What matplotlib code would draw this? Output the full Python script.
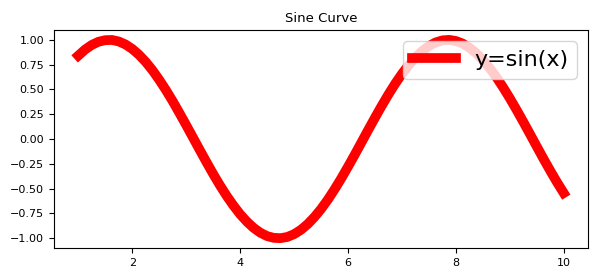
import matplotlib
matplotlib.use("Agg")
import matplotlib.pyplot as plt

x_vals = [1.000, 1.125, 1.250, 1.375, 1.500, 1.625, 1.750, 1.875,
          2.000, 2.125, 2.250, 2.375, 2.500, 2.625, 2.750, 2.875,
          3.000, 3.125, 3.250, 3.375, 3.500, 3.625, 3.750, 3.875,
          4.000, 4.125, 4.250, 4.375, 4.500, 4.625, 4.750, 4.875,
          5.000, 5.125, 5.250, 5.375, 5.500, 5.625, 5.750, 5.875,
          6.000, 6.125, 6.250, 6.375, 6.500, 6.625, 6.750, 6.875,
          7.000, 7.125, 7.250, 7.375, 7.500, 7.625, 7.750, 7.875,
          8.000, 8.125, 8.250, 8.375, 8.500, 8.625, 8.750, 8.875,
          9.000, 9.125, 9.250, 9.375, 9.500, 9.625, 9.750, 9.875,
          10.000]
y_vals = [0.841, 0.902, 0.949, 0.981, 0.997, 0.999, 0.984, 0.954,
          0.909, 0.850, 0.778, 0.694, 0.598, 0.494, 0.382, 0.263,
          0.141, 0.017, -0.108, -0.231, -0.351, -0.465, -0.572, -0.669,
          -0.757, -0.832, -0.895, -0.944, -0.978, -0.996, -0.999, -0.987,
          -0.959, -0.916, -0.859, -0.788, -0.706, -0.612, -0.508, -0.397,
          -0.279, -0.158, -0.033, 0.092, 0.215, 0.335, 0.450, 0.558,
          0.657, 0.746, 0.823, 0.887, 0.938, 0.974, 0.995, 1.000,
          0.989, 0.963, 0.922, 0.867, 0.798, 0.717, 0.625, 0.522,
          0.412, 0.295, 0.174, 0.050, -0.075, -0.199, -0.319, -0.435,
          -0.544]
line_label = "y=sin(x)"
title = "Sine Curve"

fig = plt.figure(figsize=(6, 2.8), dpi=100)
ax = fig.add_axes([0.09, 0.114, 0.89, 0.779])
ax.plot(x_vals, y_vals, color="red", linewidth=7, label=line_label)
ax.set_title(title, fontsize=9.5)
ax.tick_params(labelsize=8)
ax.legend(loc="upper right", fontsize=16)

fig.savefig("out.png", dpi=100)
